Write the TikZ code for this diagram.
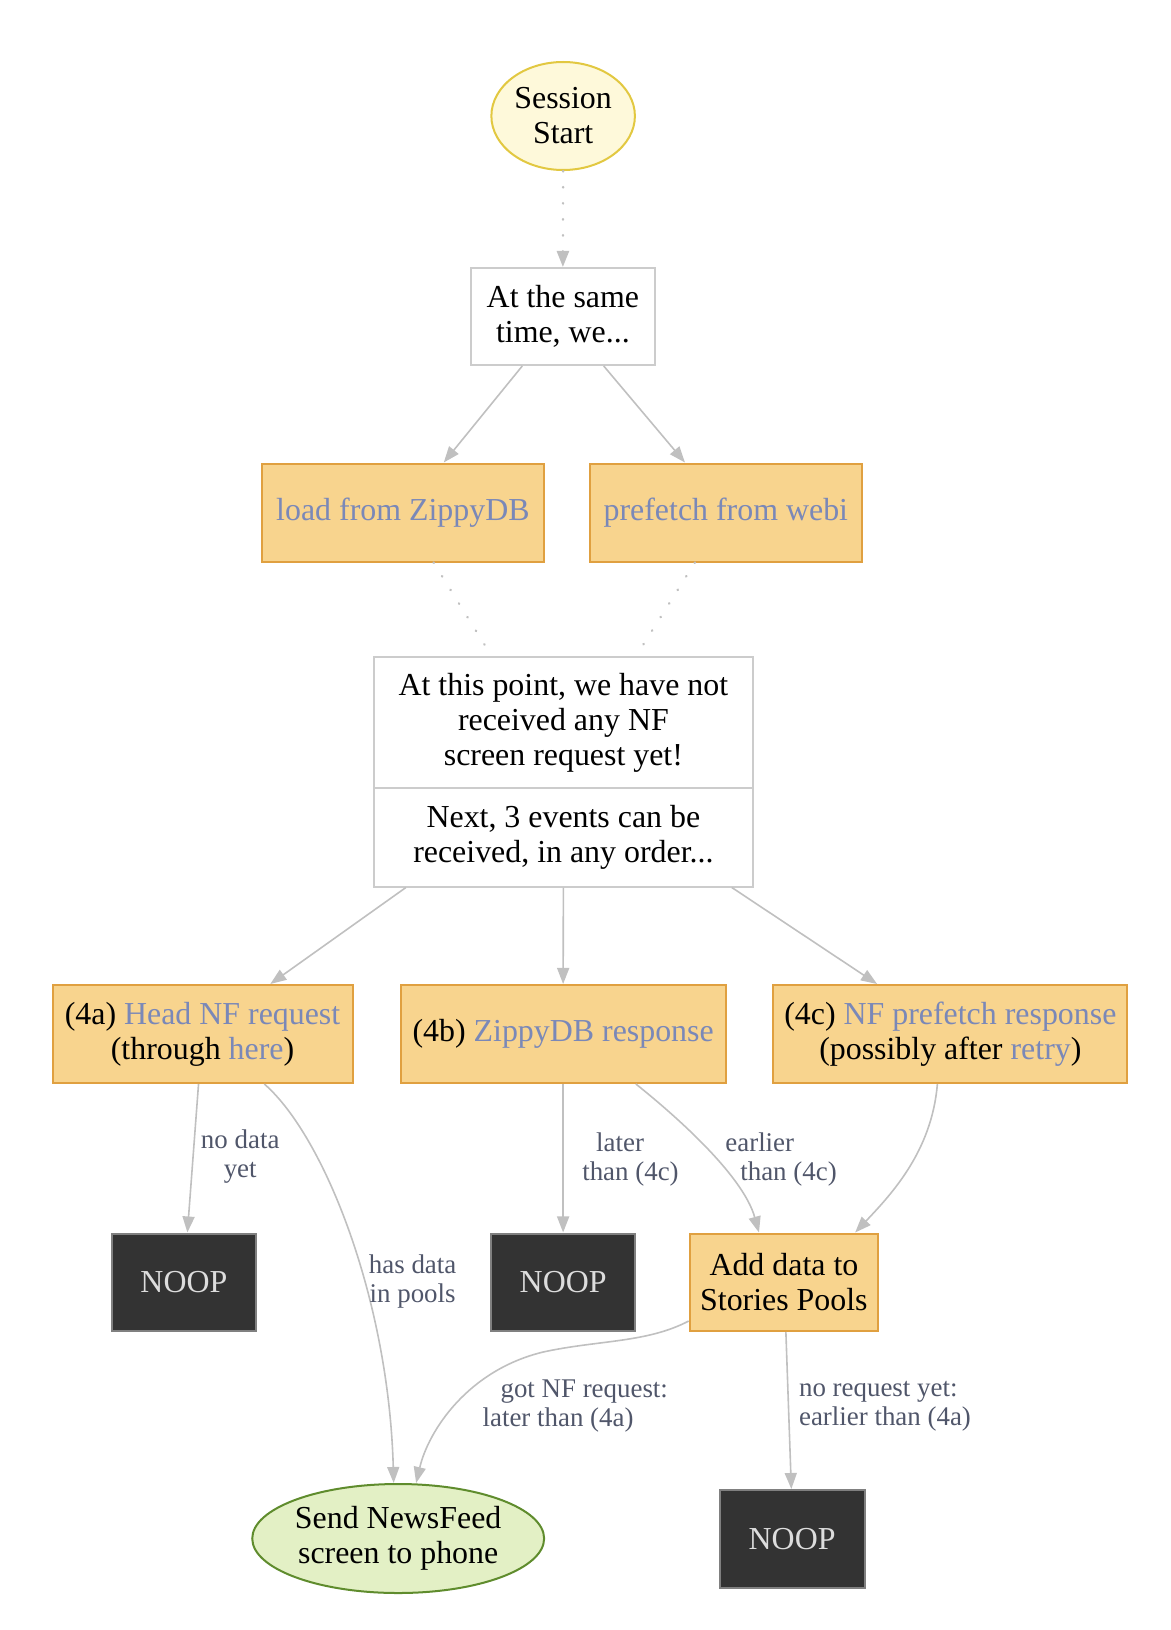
\documentclass[tikz,border=0pt]{standalone}
\usepackage{fontspec}
\setmainfont{Liberation Serif}
\usetikzlibrary{shapes.geometric,arrows.meta}
\definecolor{edgegray}{HTML}{C0C0C0}
\definecolor{boxgray}{HTML}{CCCCCC}
\definecolor{orfill}{HTML}{F8D48E}
\definecolor{orborder}{HTML}{E0A040}
\definecolor{noopfill}{HTML}{333333}
\definecolor{noopborder}{HTML}{808080}
\definecolor{nooptext}{HTML}{DDDDDD}
\definecolor{startfill}{HTML}{FEF9DA}
\definecolor{startborder}{HTML}{E2C841}
\definecolor{sendfill}{HTML}{E3F0C5}
\definecolor{sendborder}{HTML}{5F8C2D}
\definecolor{linkblue}{HTML}{7A88B8}
\definecolor{labelcol}{HTML}{50566A}
\newcommand\lnk[1]{\textcolor{linkblue}{#1}}
\begin{document}
\begin{tikzpicture}[x=1pt,y=-1pt,xscale=0.9947,yscale=0.998,transform shape,
  base/.style={inner sep=0pt, align=center, font=\fontsize{32}{35}\selectfont, line width=2pt},
  whitebox/.style={base, rectangle, draw=boxgray, fill=white},
  orangebox/.style={base, rectangle, draw=orborder, fill=orfill},
  noopbox/.style={base, rectangle, draw=noopborder, fill=noopfill, text=nooptext, minimum width=145pt, minimum height=97.5pt},
  startell/.style={base, ellipse, draw=startborder, fill=startfill},
  sendell/.style={base, ellipse, draw=sendborder, fill=sendfill},
  conn/.style={draw=edgegray, line width=1.6pt, -{Triangle[length=16pt,width=12pt]}},
  dotconn/.style={draw=edgegray, line width=2.4pt, dash pattern=on 0.5pt off 15.5pt, line cap=round},
  elabel/.style={font=\fontsize{27}{29}\selectfont, text=labelcol, inner sep=0pt}
]
\useasboundingbox (0,0) rectangle (1174,1630);

% nodes
\node[startell, minimum width=144pt, minimum height=108pt] (ss) at (565,116) {Session\\Start};
\node[whitebox, minimum width=184.5pt, minimum height=97pt] (same) at (564.75,316.5) {At the same\\time, we...};
\node[orangebox, minimum width=282.5pt, minimum height=98pt] (load) at (404.25,512.5) {\lnk{load from ZippyDB}};
\node[orangebox, minimum width=273.5pt, minimum height=98pt] (pref) at (728.25,512.5) {\lnk{prefetch from webi}};
\node[whitebox, minimum width=380.5pt, minimum height=131pt] (bigtop) at (565.25,722.5) {At this point, we have not\\received any NF\\screen request yet!};
\node[whitebox, minimum width=380.5pt, minimum height=98.5pt] (bigbot) at (565.25,837.25) {Next, 3 events can be\\received, in any order...};
\node[orangebox, minimum width=301pt, minimum height=98pt] (a4) at (203.2,1034) {(4a) \lnk{Head NF request}\\(through \lnk{here})};
\node[orangebox, minimum width=326pt, minimum height=98pt] (b4) at (565,1034) {(4b) \lnk{ZippyDB response}};
\node[orangebox, minimum width=355pt, minimum height=98pt] (c4) at (953.5,1034) {(4c) \lnk{NF prefetch response}\\(possibly after \lnk{retry})};
\node[noopbox] (noopa) at (184.5,1282.25) {NOOP};
\node[noopbox, minimum width=144pt] (noopb) at (565,1282.25) {NOOP};
\node[orangebox, minimum width=189pt, minimum height=97.5pt] (add) at (786.5,1282.25) {Add data to\\Stories Pools};
\node[sendell, minimum width=287pt, minimum height=109pt] (send) at (399.5,1538.5) {Send NewsFeed\\screen to phone};
\node[noopbox, minimum width=145.5pt, minimum height=97.6pt] (noopc) at (794.75,1538.8) {NOOP};

% connectors
\draw[dotconn, -{Triangle[length=16pt,width=12pt]}] (ss.south) -- (same.north);
\draw[conn] ([xshift=-40.75pt]same.south) -- ([xshift=41pt]load.north);
\draw[conn] ([xshift=41pt]same.south) -- ([xshift=-41pt]pref.north);
\draw[dotconn] ([xshift=30.75pt]load.south) -- ([xshift=-72pt]bigtop.north);
\draw[dotconn] ([xshift=-31pt]pref.south) -- ([xshift=73pt]bigtop.north);
\draw[conn] ([xshift=-158pt]bigbot.south) -- ([xshift=68pt]a4.north);
\draw[conn] (bigbot.south) -- (b4.north);
\draw[conn] ([xshift=169pt]bigbot.south) -- ([xshift=-73.5pt]c4.north);

\draw[conn] ([xshift=-4pt]a4.south) -- ([xshift=3.5pt]noopa.north);
\draw[conn] ([xshift=62pt]a4.south) .. controls +(60,52) and +(-5,-184) .. ([xshift=-4.5pt]send.north);
\draw[conn] (b4.south) -- (noopb.north);
\draw[conn] ([xshift=73pt]b4.south) .. controls +(34,27) and +(-16.5,-59) .. ([xshift=-25pt]add.north);
\draw[conn] ([xshift=-13pt]c4.south) .. controls +(-5.6,67) and +(37,-39) .. ([xshift=71.5pt]add.north);
\draw[conn] ([yshift=11pt]add.south west) .. controls +(-42,22) and (600,1340) .. (545,1352)
   .. controls (470,1370) and (430,1430) .. ([xshift=18pt]send.north);
\draw[conn] ([xshift=2pt]add.south) -- ([xshift=-0.75pt]noopc.north);

% edge labels
\node[elabel, align=center] (lnodata) at (241,1157) {no data\\yet};
\node[elabel, align=center] (lhas) at (414,1281) {has data\\in pools};
\node[elabel, align=left, anchor=west] (llater) at (584,1159.5) {\hspace*{14pt}later\\than (4c)};
\node[elabel, align=left, anchor=west] (learlier) at (727.6,1159.5) {earlier\\\hspace*{15pt}than (4c)};
\node[elabel, align=left, anchor=west] (lgot) at (484,1406.5) {\hspace*{18pt}got NF request:\\later than (4a)};
\node[elabel, align=left, anchor=west] (lnoreq) at (801.5,1406.5) {no request yet:\\earlier than (4a)};
\end{tikzpicture}
\end{document}
